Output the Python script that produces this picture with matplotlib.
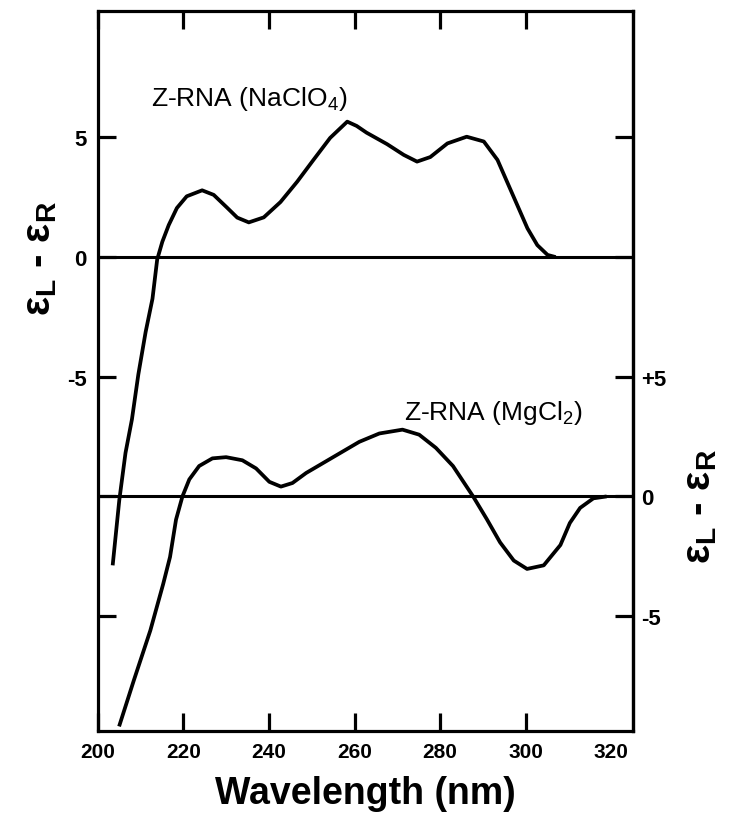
import matplotlib
matplotlib.use("Agg")
import matplotlib.pyplot as plt

plt.rcParams["font.family"] = ["Liberation Sans", "DejaVu Sans"]
plt.rcParams["mathtext.fontset"] = "custom"
plt.rcParams["mathtext.rm"] = "Liberation Sans"
plt.rcParams["mathtext.bf"] = "Liberation Sans:bold"

# Z-RNA in NaClO4 (left axis)
wl_na = [203.5, 205.05, 206.5, 208.0, 209.5, 211.2, 212.8, 213.9, 215.1, 216.6,
         218.5, 220.8, 224.4, 227.1, 230.2, 232.6, 235.3, 238.8, 242.7, 246.6,
         250.4, 254.3, 258.3, 260.5, 262.8, 267.6, 271.5, 274.6, 277.7, 281.7,
         286.2, 290.2, 293.4, 295.6, 298.0, 300.4, 302.7, 305.1, 307.0]
eps_na = [-12.88, -10.15, -8.18, -6.78, -4.9, -3.13, -1.74, -0.1, 0.64, 1.34,
          2.05, 2.54, 2.79, 2.6, 2.07, 1.65, 1.45, 1.66, 2.3, 3.15,
          4.06, 4.98, 5.66, 5.48, 5.2, 4.72, 4.27, 3.99, 4.18, 4.75,
          5.03, 4.83, 4.06, 3.16, 2.18, 1.2, 0.5, 0.09, 0.0]

# Z-RNA in MgCl2 (right axis, drawn 10 units lower)
wl_mg = [205.0, 208.4, 212.3, 215.3, 216.9, 218.3, 219.8, 221.4, 223.7, 226.8,
         230.0, 233.8, 237.0, 240.1, 242.8, 245.5, 248.7, 254.9, 261.1, 265.8,
         271.2, 275.1, 279.0, 283.0, 287.7, 290.9, 294.0, 297.2, 300.3, 304.2,
         308.1, 310.3, 312.7, 315.8, 318.9]
eps_mg = [-9.61, -7.71, -5.6, -3.66, -2.53, -0.97, 0.0, 0.71, 1.27, 1.59,
          1.64, 1.51, 1.17, 0.61, 0.41, 0.56, 0.98, 1.63, 2.28, 2.63,
          2.79, 2.58, 2.03, 1.27, 0.0, -0.95, -1.92, -2.68, -3.03, -2.88,
          -2.03, -1.11, -0.48, -0.08, 0.0]
MG_OFFSET = 10

x_ticks = [200, 220, 240, 260, 280, 300, 320]
left_ticks = [5, 0, -5, -10, -15]
left_labels = ["5", "0", "-5", "", ""]
right_ticks = [15, 10, 5, 0, -5]
right_labels = ["", "", "+5", "0", "-5"]

fig = plt.figure(figsize=(7.29, 8.28), dpi=100)
ax = fig.add_axes([0.134, 0.116, 0.734, 0.870])

lw = 2.7
ax.plot(wl_na, eps_na, color="black", linewidth=lw, solid_joinstyle="round", solid_capstyle="butt")
ax.plot(wl_mg, [v - MG_OFFSET for v in eps_mg], color="black", linewidth=lw,
        solid_joinstyle="round", solid_capstyle="butt")
ax.axhline(0, color="black", linewidth=2.2)
ax.axhline(-MG_OFFSET, color="black", linewidth=2.2)

ax.set_xlim(200, 325)
ax.set_ylim(-19.8, 10.3)

for s in ax.spines.values():
    s.set_linewidth(2.3)

ax.set_xticks(x_ticks)
ax.set_xticklabels([str(t) for t in x_ticks], fontsize=15, fontweight="bold")
ax.set_yticks(left_ticks)
ax.set_yticklabels(left_labels, fontsize=16, fontweight="bold")
ax.tick_params(axis="both", direction="in", length=13, width=2.3, pad=8)
ax.tick_params(axis="x", top=True)
last = ax.xaxis.get_major_ticks()[-1]
last.tick1line.set_visible(False)
last.tick2line.set_visible(False)

sec = ax.secondary_yaxis("right", functions=(lambda y: y + MG_OFFSET, lambda y: y - MG_OFFSET))
sec.set_yticks(right_ticks)
sec.set_yticklabels(right_labels, fontsize=16, fontweight="bold")
sec.tick_params(direction="in", length=13, width=2.3, pad=6)
sec.spines["right"].set_linewidth(2.3)

ax.set_xlabel("Wavelength (nm)", fontsize=27, fontweight="bold", labelpad=10)
ylab = "ε$_\\mathbf{L}$ - ε$_\\mathbf{R}$"
fig.text(0.055, 0.688, ylab, rotation=90, fontsize=29, fontweight="bold", ha="center", va="center")
fig.text(0.96, 0.388, ylab, rotation=90, fontsize=29, fontweight="bold", ha="center", va="center")

ax.text(212.4, 6.64, "Z-RNA (NaClO$_\\mathregular{4}$)", fontsize=19, ha="left", va="center")
ax.text(271.6, -6.47, "Z-RNA (MgCl$_\\mathregular{2}$)", fontsize=19, ha="left", va="center")

fig.savefig("out.png", dpi=100)
